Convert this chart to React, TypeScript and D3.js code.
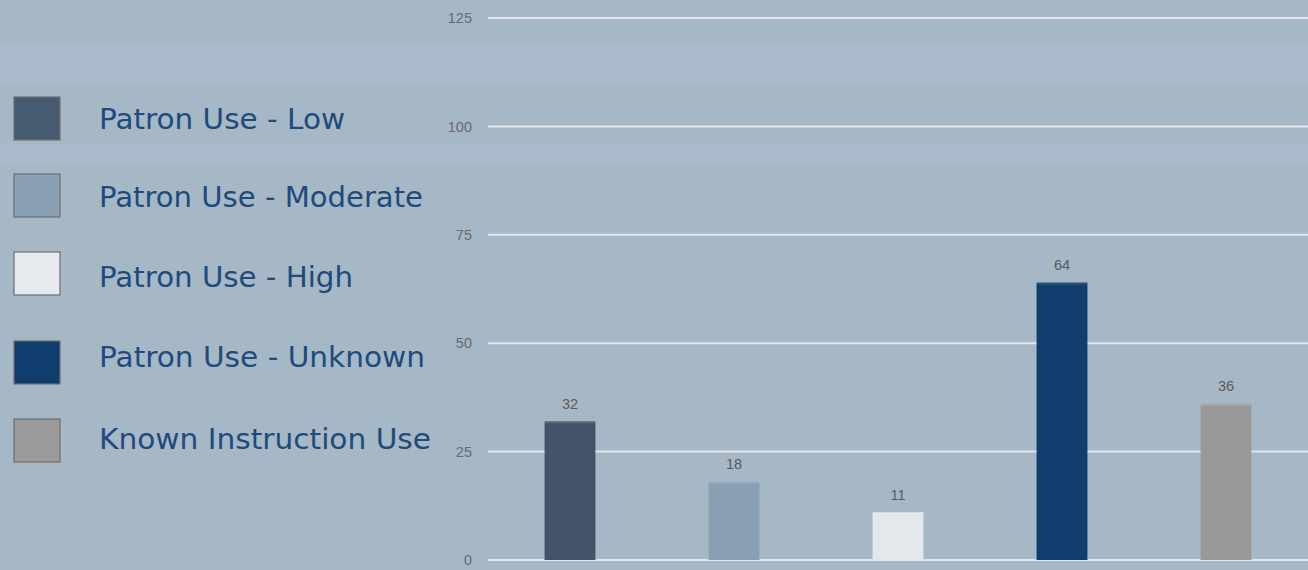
import React from "react";
import * as d3 from "d3";

const categories = ["Patron Use - Low", "Patron Use - Moderate", "Patron Use - High", "Patron Use - Unknown", "Known Instruction Use"];
const values = [32, 18, 11, 64, 36];
const barColors = ["#44536a", "#889fb4", "#e4e8ec", "#0e3d6e", "#999999"];
const legendColors = ["#465a72", "#8aa0b5", "#e6eaee", "#0e3d6e", "#9a9a9a"];
const yTicks = [0, 25, 50, 75, 100, 125];

// layout (pixel positions of legend rows)
const legendSquareTops = [97, 174, 252, 341, 419];
const legendBaselines = [129, 207, 287, 367, 449];
const legendWidths = [246, 324, 254, 326, 332];

const W = 1308;
const H = 570;

export default function App() {
  const x = d3.scaleBand<string>().domain(categories).range([488, 1308]).paddingInner(0.69).paddingOuter(0.345);
  const y = d3.scaleLinear().domain([0, 125]).range([560, 18]);

  return (
    <svg width={W} height={H} style={{ position: "absolute", left: 0, top: 0 }} fontFamily="DejaVu Sans, sans-serif">
      <rect x={0} y={0} width={W} height={H} fill="#a6b7c5" />
      <rect x={0} y={43} width={W} height={41} fill="#aabbcb" />
      <rect x={0} y={145} width={W} height={20} fill="#aabbcb" />

      {yTicks.map((t) => (
        <g key={t}>
          <line x1={488} x2={W} y1={y(t)} y2={y(t)} stroke="#e3e7eb" strokeWidth={2} />
          <text x={472} y={y(t)} dy="0.36em" textAnchor="end" fontSize={14.5} fill="#6a6a6a" fontFamily="Liberation Sans, sans-serif">
            {t}
          </text>
        </g>
      ))}

      {categories.map((c, i) => {
        const bx = x(c)!;
        const bw = x.bandwidth();
        const top = y(values[i]);
        return (
          <g key={c}>
            <rect x={bx} y={top} width={bw} height={y(0) - top} fill={barColors[i]} />
            <rect x={bx} y={top} width={bw} height={2} fill="#ffffff" opacity={0.12} />
            <text x={bx + bw / 2} y={top - 12.5} textAnchor="middle" fontSize={14.5} fill="#5a5a5a" fontFamily="Liberation Sans, sans-serif">
              {values[i]}
            </text>
          </g>
        );
      })}

      {categories.map((c, i) => (
        <g key={"lg" + c}>
          <rect x={14} y={legendSquareTops[i]} width={46} height={43} fill={legendColors[i]} stroke="#6e6e6e" strokeWidth={1.2} />
          <text x={99} y={legendBaselines[i]} fontSize={29} fill="#1d4b7d" textLength={legendWidths[i]} lengthAdjust="spacingAndGlyphs">
            {c}
          </text>
        </g>
      ))}
    </svg>
  );
}
